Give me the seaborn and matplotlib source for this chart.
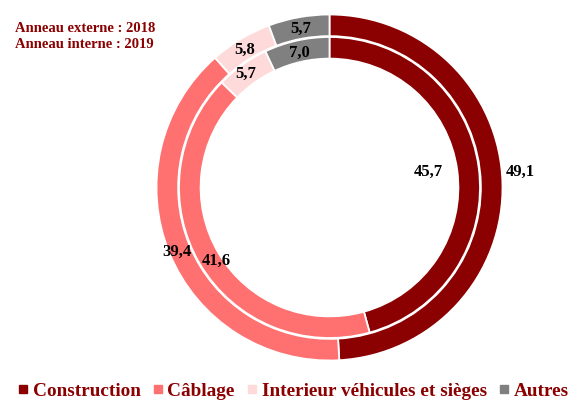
import numpy as np
import matplotlib
matplotlib.use("Agg")
import matplotlib.pyplot as plt
from matplotlib.lines import Line2D
import seaborn as sns

categories = ["Construction", "Câblage", "Interieur véhicules et sièges", "Autres"]
values_2018 = [49.1, 39.4, 5.8, 5.7]   # anneau externe
values_2019 = [45.7, 41.6, 5.7, 7.0]   # anneau interne
colors = ["#8B0000", "#FF7070", "#FFDADA", "#808080"]
text_red = "#8B0000"

sns.set_theme(style="white")
plt.rcParams["font.family"] = ["Liberation Serif", "DejaVu Serif"]

fig = plt.figure(figsize=(5.76, 4.01), dpi=100)
cx, cy, R = 329.5, 187.5, 173.0
W, H = 576.0, 401.0
ax = fig.add_axes([(cx - R) / W, (H - cy - R) / H, 2 * R / W, 2 * R / H])

ring_w = 0.125
wedge_kw = dict(width=ring_w, edgecolor="white", linewidth=1.3)
ax.pie(values_2018, radius=1.0, colors=colors, startangle=90, counterclock=False,
       wedgeprops=wedge_kw)
ax.pie(values_2019, radius=0.87, colors=colors, startangle=90, counterclock=False,
       wedgeprops=wedge_kw)
ax.set_xlim(-1, 1)
ax.set_ylim(-1, 1)
ax.set_aspect("equal")
ax.axis("off")


def fmt(v):
    return f"{v:.1f}".replace(".", ",")


def place_labels(vals, radii, nudges):
    start = 90.0
    for v, r, dn in zip(vals, radii, nudges):
        span = v * 3.6
        mid = np.deg2rad(start - span / 2 + dn)
        ax.text(r * np.cos(mid), r * np.sin(mid), fmt(v), ha="center", va="center",
                fontsize=12, fontweight="bold", color="black")
        start -= span


place_labels(values_2018, [1.105, 0.955, 0.935, 0.93], [3.0, 0.5, 0.5, 0.0])
place_labels(values_2019, [0.576, 0.78, 0.815, 0.80], [1.2, 2.5, 0.8, 0.0])

fig.text(15 / W, 1 - 29 / H, "Anneau externe : 2018", color=text_red, fontsize=10.5,
         fontweight="bold", ha="left", va="center")
fig.text(15 / W, 1 - 44.5 / H, "Anneau interne : 2019", color=text_red, fontsize=10.5,
         fontweight="bold", ha="left", va="center")

handles = [Line2D([0], [0], marker="s", linestyle="none", markersize=5.5,
                  markerfacecolor=c, markeredgecolor=c) for c in colors]
leg = fig.legend(handles, categories, loc="center left",
                 bbox_to_anchor=(19 / W, 1 - 391 / H), borderaxespad=0, borderpad=0,
                 ncol=4, frameon=False, handlelength=0.4, handletextpad=0.3,
                 columnspacing=0.7, prop={"size": 13.9, "weight": "bold"})
for t in leg.get_texts():
    t.set_color(text_red)

fig.savefig("out.png", dpi=100)
